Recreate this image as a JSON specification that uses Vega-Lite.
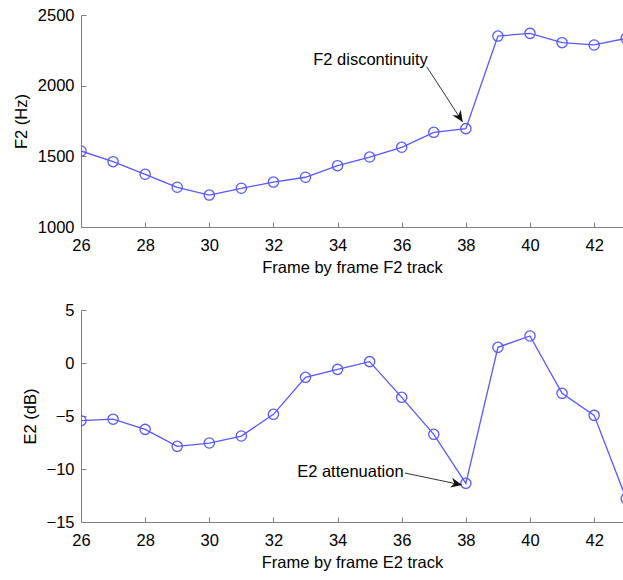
{
  "$schema": "https://vega.github.io/schema/vega-lite/v6.json",
  "padding": {"left": 13, "top": 7, "right": 0, "bottom": 5},
  "spacing": 26,
  "datasets": {
    "track": [
      {"frame": 26, "F2": 1538, "E2": -5.44},
      {"frame": 27, "F2": 1462, "E2": -5.3},
      {"frame": 28, "F2": 1373, "E2": -6.26},
      {"frame": 29, "F2": 1281, "E2": -7.86},
      {"frame": 30, "F2": 1226, "E2": -7.55},
      {"frame": 31, "F2": 1274, "E2": -6.89},
      {"frame": 32, "F2": 1318, "E2": -4.84},
      {"frame": 33, "F2": 1352, "E2": -1.35},
      {"frame": 34, "F2": 1434, "E2": -0.6},
      {"frame": 35, "F2": 1495, "E2": 0.13},
      {"frame": 36, "F2": 1564, "E2": -3.24},
      {"frame": 37, "F2": 1670, "E2": -6.73},
      {"frame": 38, "F2": 1696, "E2": -11.35},
      {"frame": 39, "F2": 2351, "E2": 1.48},
      {"frame": 40, "F2": 2370, "E2": 2.55},
      {"frame": 41, "F2": 2304, "E2": -2.86},
      {"frame": 42, "F2": 2288, "E2": -4.94},
      {"frame": 43, "F2": 2335, "E2": -12.8}
    ],
    "f2note": [
      {"label": "F2 discontinuity", "tx": 33.24, "ty": 2182, "x1": 36.78, "y1": 2134, "x2": 37.9, "y2": 1743}
    ],
    "e2note": [
      {"label": "E2 attenuation", "tx": 32.74, "ty": -10.28, "x1": 36.1, "y1": -10.38, "x2": 37.88, "y2": -11.51}
    ]
  },
  "config": {
    "view": {"stroke": null},
    "font": "Liberation Sans",
    "axis": {
      "grid": false,
      "domainColor": "#808080",
      "tickColor": "#808080",
      "tickSize": -5,
      "labelPadding": 12,
      "labelFlush": false,
      "labelOverlap": false,
      "format": "d",
      "labelFont": "Liberation Sans",
      "labelFontSize": 16.5,
      "labelColor": "#000000",
      "titleFont": "Liberation Sans",
      "titleFontSize": 16.5,
      "titleFontWeight": "normal",
      "titleColor": "#000000",
      "titlePadding": 8
    },
    "axisX": {"labelPadding": 15, "titlePadding": 6}
  },
  "vconcat": [
    {
      "width": 542,
      "height": 212,
      "layer": [
        {
          "data": {"name": "track"},
          "mark": {"type": "line", "color": "#5858ff", "strokeWidth": 1.3, "clip": true},
          "encoding": {
            "x": {"field": "frame", "type": "quantitative", "title": "Frame by frame F2 track", "scale": {"domain": [26, 42.9], "nice": false}, "axis": {"values": [26, 28, 30, 32, 34, 36, 38, 40, 42]}},
            "y": {"field": "F2", "type": "quantitative", "title": "F2 (Hz)", "scale": {"domain": [1000, 2500], "nice": false}, "axis": {"values": [1000, 1500, 2000, 2500]}}
          }
        },
        {
          "data": {"name": "track"},
          "mark": {"type": "point", "shape": "circle", "filled": false, "color": "#5858ff", "strokeWidth": 1.3, "size": 105, "clip": true, "opacity": 1},
          "encoding": {
            "x": {"field": "frame", "type": "quantitative", "title": "Frame by frame F2 track"},
            "y": {"field": "F2", "type": "quantitative", "title": "F2 (Hz)"}
          }
        },
        {
          "data": {"name": "f2note"},
          "mark": {"type": "text", "align": "left", "baseline": "middle", "fontSize": 16.5, "color": "#000000"},
          "encoding": {
            "x": {"field": "tx", "type": "quantitative", "title": "Frame by frame F2 track"},
            "y": {"field": "ty", "type": "quantitative", "title": "F2 (Hz)"},
            "text": {"field": "label"}
          }
        },
        {
          "data": {"name": "f2note"},
          "mark": {"type": "rule", "color": "#333333", "strokeWidth": 1},
          "encoding": {
            "x": {"field": "x1", "type": "quantitative", "title": "Frame by frame F2 track"},
            "y": {"field": "y1", "type": "quantitative", "title": "F2 (Hz)"},
            "x2": {"field": "x2"},
            "y2": {"field": "y2"}
          }
        },
        {
          "data": {"name": "f2note"},
          "mark": {"type": "point", "shape": "M0,0 L-0.45,-1 L0,-0.7 L0.45,-1 Z", "filled": true, "color": "#111111", "opacity": 1, "size": 500, "angle": 327},
          "encoding": {
            "x": {"field": "x2", "type": "quantitative", "title": "Frame by frame F2 track"},
            "y": {"field": "y2", "type": "quantitative", "title": "F2 (Hz)"}
          }
        }
      ]
    },
    {
      "width": 542,
      "height": 212,
      "layer": [
        {
          "data": {"name": "track"},
          "mark": {"type": "line", "color": "#5858ff", "strokeWidth": 1.3, "clip": true},
          "encoding": {
            "x": {"field": "frame", "type": "quantitative", "title": "Frame by frame E2 track", "scale": {"domain": [26, 42.9], "nice": false}, "axis": {"values": [26, 28, 30, 32, 34, 36, 38, 40, 42]}},
            "y": {"field": "E2", "type": "quantitative", "title": "E2 (dB)", "scale": {"domain": [-15, 5], "nice": false}, "axis": {"values": [-15, -10, -5, 0, 5]}}
          }
        },
        {
          "data": {"name": "track"},
          "mark": {"type": "point", "shape": "circle", "filled": false, "color": "#5858ff", "strokeWidth": 1.3, "size": 105, "clip": true, "opacity": 1},
          "encoding": {
            "x": {"field": "frame", "type": "quantitative", "title": "Frame by frame E2 track"},
            "y": {"field": "E2", "type": "quantitative", "title": "E2 (dB)"}
          }
        },
        {
          "data": {"name": "e2note"},
          "mark": {"type": "text", "align": "left", "baseline": "middle", "fontSize": 16.5, "color": "#000000"},
          "encoding": {
            "x": {"field": "tx", "type": "quantitative", "title": "Frame by frame E2 track"},
            "y": {"field": "ty", "type": "quantitative", "title": "E2 (dB)"},
            "text": {"field": "label"}
          }
        },
        {
          "data": {"name": "e2note"},
          "mark": {"type": "rule", "color": "#333333", "strokeWidth": 1},
          "encoding": {
            "x": {"field": "x1", "type": "quantitative", "title": "Frame by frame E2 track"},
            "y": {"field": "y1", "type": "quantitative", "title": "E2 (dB)"},
            "x2": {"field": "x2"},
            "y2": {"field": "y2"}
          }
        },
        {
          "data": {"name": "e2note"},
          "mark": {"type": "point", "shape": "M0,0 L-0.45,-1 L0,-0.7 L0.45,-1 Z", "filled": true, "color": "#111111", "opacity": 1, "size": 500, "angle": 282},
          "encoding": {
            "x": {"field": "x2", "type": "quantitative", "title": "Frame by frame E2 track"},
            "y": {"field": "y2", "type": "quantitative", "title": "E2 (dB)"}
          }
        }
      ]
    }
  ]
}
